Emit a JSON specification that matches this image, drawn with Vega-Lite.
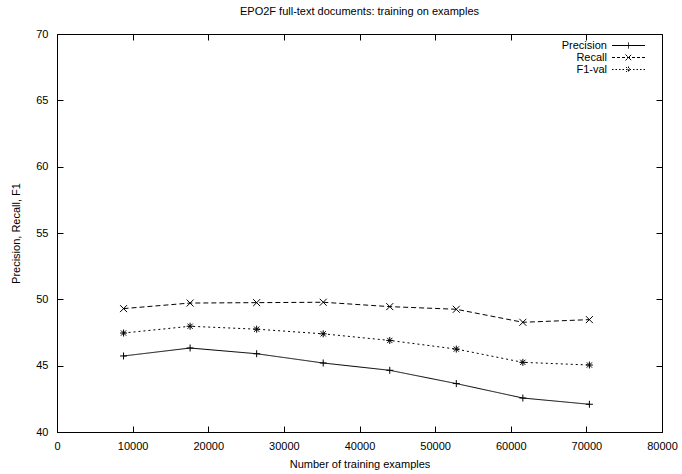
{
  "$schema": "https://vega.github.io/schema/vega-lite/v6.json",
  "width": 605,
  "height": 398,
  "autosize": "none",
  "padding": {"left": 57, "top": 34, "right": 20, "bottom": 42},
  "background": "white",
  "title": {"text": "EPO2F full-text documents: training on examples", "fontSize": 11, "font": "Liberation Sans", "fontWeight": "normal", "offset": 11, "color": "black"},
  "config": {
    "view": {"stroke": "black", "strokeWidth": 1},
    "axis": {"grid": false, "domain": false, "ticks": true, "tickColor": "black", "tickWidth": 1, "tickSize": 6, "offset": -6, "labelFlush": false, "labelOverlap": false, "labelFont": "Liberation Sans", "labelFontSize": 11, "labelColor": "black", "titleFont": "Liberation Sans", "titleFontSize": 11, "titleFontWeight": "normal", "titleColor": "black"},
    "legend": {"title": null, "orient": "none", "legendX": 565, "legendY": 5, "labelAlign": "right", "labelOffset": -28, "labelFont": "Liberation Sans", "labelFontSize": 11, "labelColor": "black", "symbolSize": 144, "rowPadding": 0, "padding": 0, "symbolStrokeColor": "black", "symbolStrokeWidth": 1, "symbolFillColor": "transparent", "symbolOpacity": 1}
  },
  "data": {"values": [
    {"x": 8800, "series": "Precision", "v": 45.73},
    {"x": 17600, "series": "Precision", "v": 46.33},
    {"x": 26400, "series": "Precision", "v": 45.9},
    {"x": 35200, "series": "Precision", "v": 45.2},
    {"x": 44000, "series": "Precision", "v": 44.65},
    {"x": 52800, "series": "Precision", "v": 43.65},
    {"x": 61600, "series": "Precision", "v": 42.56},
    {"x": 70400, "series": "Precision", "v": 42.09},
    {"x": 8800, "series": "Recall", "v": 49.3},
    {"x": 17600, "series": "Recall", "v": 49.72},
    {"x": 26400, "series": "Recall", "v": 49.75},
    {"x": 35200, "series": "Recall", "v": 49.78},
    {"x": 44000, "series": "Recall", "v": 49.45},
    {"x": 52800, "series": "Recall", "v": 49.25},
    {"x": 61600, "series": "Recall", "v": 48.27},
    {"x": 70400, "series": "Recall", "v": 48.47},
    {"x": 8800, "series": "F1-val", "v": 47.46},
    {"x": 17600, "series": "F1-val", "v": 47.97},
    {"x": 26400, "series": "F1-val", "v": 47.75},
    {"x": 35200, "series": "F1-val", "v": 47.4},
    {"x": 44000, "series": "F1-val", "v": 46.9},
    {"x": 52800, "series": "F1-val", "v": 46.25},
    {"x": 61600, "series": "F1-val", "v": 45.25},
    {"x": 70400, "series": "F1-val", "v": 45.05}
  ]},
  "layer": [
    {
      "mark": {"type": "line", "color": "black", "strokeWidth": 1},
      "encoding": {
        "x": {"field": "x", "type": "quantitative", "scale": {"domain": [0, 80000], "nice": false}, "axis": {"title": "Number of training examples", "values": [0,10000,20000,30000,40000,50000,60000,70000,80000], "format": "d", "labelPadding": 8, "titlePadding": 7}},
        "y": {"field": "v", "type": "quantitative", "scale": {"domain": [40, 70], "nice": false, "zero": false}, "axis": {"title": "Precision, Recall, F1", "values": [40,45,50,55,60,65,70], "labelPadding": 9, "titlePadding": 14}},
        "strokeDash": {"field": "series", "type": "nominal", "scale": {"domain": ["Precision", "Recall", "F1-val"], "range": [[1, 0], [5, 3], [2, 3]]}, "legend": null}
      }
    },
    {
      "mark": {"type": "point", "color": "black", "filled": false, "strokeWidth": 1, "size": 49, "opacity": 1},
      "encoding": {
        "x": {"field": "x", "type": "quantitative", "axis": {"orient": "top", "labels": false, "title": null, "values": [0,10000,20000,30000,40000,50000,60000,70000,80000]}},
        "y": {"field": "v", "type": "quantitative", "axis": {"orient": "right", "labels": false, "title": null, "values": [40,45,50,55,60,65,70]}},
        "shape": {"field": "series", "type": "nominal", "scale": {"domain": ["Precision", "Recall", "F1-val"], "range": ["M-1,0H1M0,-1V1", "M-1,-1L1,1M-1,1L1,-1", "M-1,0H1M0,-1V1M-0.75,-0.75L0.75,0.75M-0.75,0.75L0.75,-0.75"]}, "legend": null}
      }
    },
    {
      "transform": [{"filter": "datum.x < 0"}],
      "mark": {"type": "point", "color": "black", "filled": false, "strokeWidth": 1, "opacity": 1},
      "encoding": {
        "x": {"field": "x", "type": "quantitative", "axis": null},
        "y": {"field": "v", "type": "quantitative", "axis": null},
        "strokeDash": {"field": "series", "type": "nominal", "scale": {"domain": ["Precision", "Recall", "F1-val"], "range": [[1, 0], [3, 2], [1.5, 2]]}},
        "shape": {"field": "series", "type": "nominal", "scale": {"domain": ["Precision", "Recall", "F1-val"], "range": ["M-2.75,0H2.75M0,-0.5V0.5", "M-2.75,0H2.75M-0.5,-0.5L0.5,0.5M-0.5,0.5L0.5,-0.5", "M-2.75,0H2.75M0,-0.5V0.5M-0.4,-0.4L0.4,0.4M-0.4,0.4L0.4,-0.4"]}}
      }
    }
  ],
  "resolve": {"axis": {"x": "independent", "y": "independent"}, "scale": {"shape": "independent", "strokeDash": "independent"}}
}
